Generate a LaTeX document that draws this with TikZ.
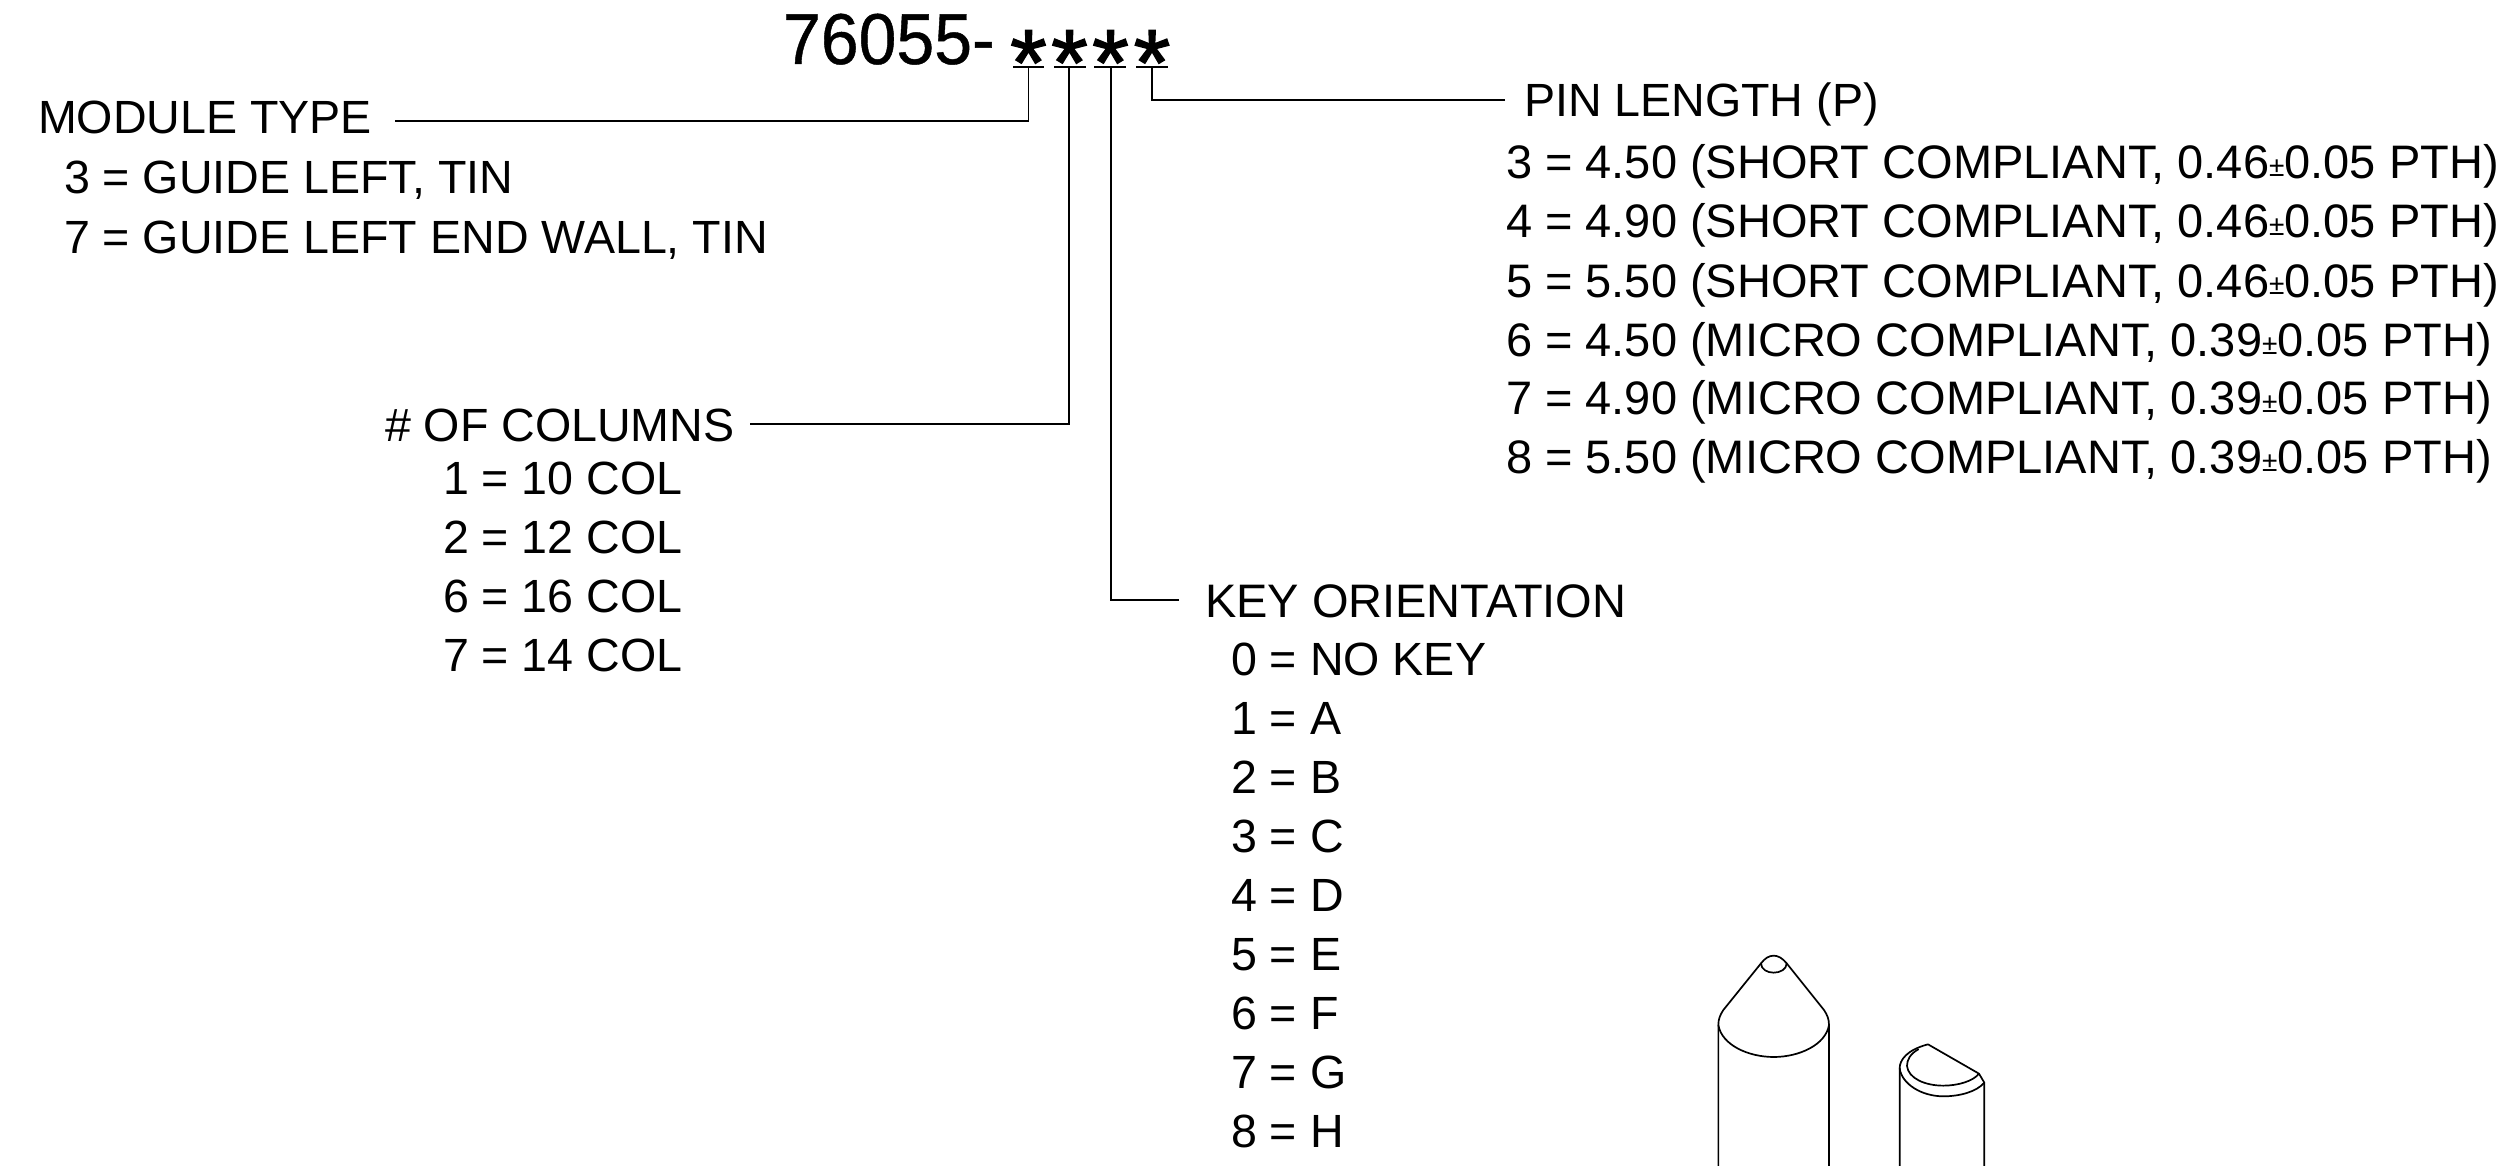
\documentclass[tikz,border=0pt]{standalone}
\usepackage{fontspec}
\setmainfont{Liberation Sans}
\newcommand{\plmn}{{\fontsize{28}{28}\selectfont\raisebox{2pt}{±}}}
\tikzset{
  txt/.style={anchor=base west,inner sep=0pt,outer sep=0pt,font=\fontsize{46.6}{50}\selectfont},
  wide/.style={anchor=base west,inner sep=0pt,outer sep=0pt,font=\fontsize{47}{50}\selectfont},
  big/.style={anchor=base west,inner sep=0pt,outer sep=0pt,font=\fontsize{68}{72}\selectfont\addfontfeature{FakeBold=0.6}},
  star/.style={anchor=base,inner sep=0pt,outer sep=0pt,font=\fontsize{94}{94}\selectfont\addfontfeature{FakeBold=1.5}},
  conn/.style={line width=1.7pt,line join=miter},
  under/.style={line width=1.7pt},
  pinline/.style={line width=1.7pt,line join=round,line cap=round}
}
\begin{document}
\begin{tikzpicture}[x=1pt,y=-1pt]
\useasboundingbox (0,0) rectangle (2507,1166);
\fill[white] (0,0) rectangle (2507,1166);
% title
\node[big] (title) at (783,64) {\scalebox{1}[1.06]{76055-}};
\node[star] (s1) at (1028.5,95) {*};
\node[star] (s2) at (1069.5,95) {*};
\node[star] (s3) at (1110.5,95) {*};
\node[star] (s4) at (1152,95) {*};
% underlines
\coordinate (u1a) at (1013,66.7); \coordinate (u1b) at (1044,66.7);
\coordinate (u2a) at (1054,66.7); \coordinate (u2b) at (1086,66.7);
\coordinate (u3a) at (1094,66.7); \coordinate (u3b) at (1126,66.7);
\coordinate (u4a) at (1136,66.7); \coordinate (u4b) at (1168,66.7);
\coordinate (t1) at (1028.6,66.7); \coordinate (t2) at (1069,66.7);
\coordinate (t3) at (1111,66.7); \coordinate (t4) at (1152,66.7);
\draw[under] (u1a)--(u1b);
\draw[under] (u2a)--(u2b);
\draw[under] (u3a)--(u3b);
\draw[under] (u4a)--(u4b);
% module
\node[txt] (mt) at (38,134) {MODULE TYPE};
\node[txt] (m1) at (64,193.5) {3 = GUIDE LEFT, TIN};
\node[txt] (m2) at (64,253.5) {7 = GUIDE LEFT END WALL, TIN};
% columns
\node[txt] (ct) at (385,441) {\# OF COLUMNS};
\node[txt] (c1) at (443,494) {1 = 10 COL};
\node[txt] (c2) at (443,553) {2 = 12 COL};
\node[txt] (c3) at (443,612) {6 = 16 COL};
\node[txt] (c4) at (443,671) {7 = 14 COL};
% key
\node[wide] (kt) at (1205,617) {KEY ORIENTATION};
\node[txt] (k0) at (1231,675) {0 = NO KEY};
\node[txt] (k1) at (1231,734) {1 = A};
\node[txt] (k2) at (1231,793) {2 = B};
\node[txt] (k3) at (1231,852) {3 = C};
\node[txt] (k4) at (1231,911) {4 = D};
\node[txt] (k5) at (1231,970) {5 = E};
\node[txt] (k6) at (1231,1029) {6 = F};
\node[txt] (k7) at (1231,1088) {7 = G};
\node[txt] (k8) at (1231,1147) {8 = H};
% pin length
\node[txt] (pt) at (1524,117) {PIN LENGTH (P)};
\node[wide] (p3) at (1506,179) {3 = 4.50 (SHORT COMPLIANT, 0.46\plmn 0.05 PTH)};
\node[wide] (p4) at (1506,238) {4 = 4.90 (SHORT COMPLIANT, 0.46\plmn 0.05 PTH)};
\node[wide] (p5) at (1506,297) {5 = 5.50 (SHORT COMPLIANT, 0.46\plmn 0.05 PTH)};
\node[wide] (p6) at (1506,356) {6 = 4.50 (MICRO COMPLIANT, 0.39\plmn 0.05 PTH)};
\node[wide] (p7) at (1506,414.5) {7 = 4.90 (MICRO COMPLIANT, 0.39\plmn 0.05 PTH)};
\node[wide] (p8) at (1506,473.5) {8 = 5.50 (MICRO COMPLIANT, 0.39\plmn 0.05 PTH)};
% connectors
\coordinate (e1) at (395,120.7);
\coordinate (e2) at (750,424);
\coordinate (e3) at (1179,600);
\coordinate (e4) at (1505,100);
\draw[conn] (e1) -| (t1);
\draw[conn] (e2) -| (t2);
\draw[conn] (e3) -| (t3);
\draw[conn] (e4) -| (t4);
% pins
\begin{scope}[shift={(1680,930)},x=0.3333pt,y=-0.3333pt,pinline]
  \clip (-100,-100) rectangle (1000,708);
  \draw (115,720) -- (115,285) .. controls (115,268) and (120,255) .. (130,240) -- (243,100)
     .. controls (255,84) and (268,77) .. (281,77) .. controls (294,77) and (307,84) .. (320,100)
     -- (432,240) .. controls (442,255) and (447,268) .. (447,285) -- (447,720);
  \draw (115,285) .. controls (125,345) and (205,381) .. (281,381) .. controls (357,381) and (437,345) .. (447,285);
  \draw (243,100) .. controls (243,118) and (262,128) .. (281,128) .. controls (300,128) and (320,118) .. (320,100);
  \draw (659,720) -- (659,415) .. controls (659,390) and (680,360) .. (744,343) -- (897,431) -- (913,458) -- (913,720);
  \draw (659,415) .. controls (665,462) and (725,499) .. (790,499) .. controls (840,499) and (890,485) .. (913,458);
  \draw (715,358) .. controls (690,372) and (681,390) .. (681,408) .. controls (685,445) and (735,467) .. (790,467) .. controls (835,467) and (880,453) .. (897,431);
\end{scope}
\end{tikzpicture}
\end{document}
